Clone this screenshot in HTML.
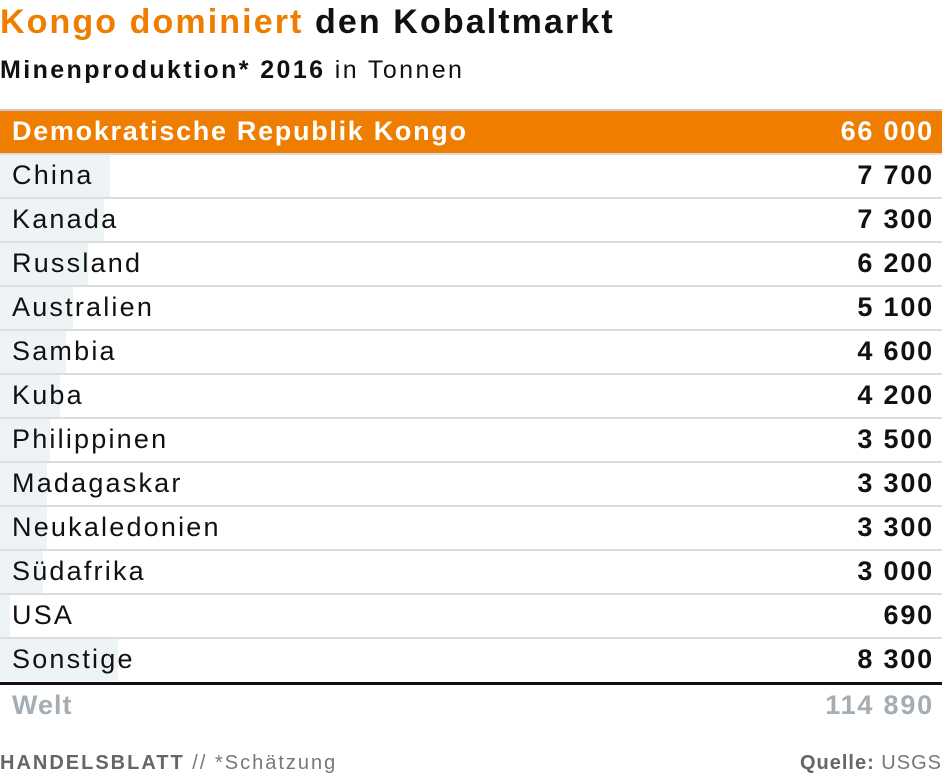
<!DOCTYPE html>
<html><head><meta charset="utf-8"><style>
body{margin:0;width:942px;height:775px;background:#fff;font-family:"Liberation Sans",sans-serif;position:relative;overflow:hidden}
.t{position:absolute;left:0;top:3px;font-size:34px;font-weight:bold;color:#111;letter-spacing:2.1px}
.s{position:absolute;left:0;top:56px;font-size:25px;color:#111;letter-spacing:2.4px}
.row{position:absolute;left:0;width:942px;height:42px;border-top:2px solid #ddd}
.bar{position:absolute;left:0;top:0;height:42px;background:#eef3f6}
.n{position:absolute;left:12px;top:5px;font-size:27px;color:#111;letter-spacing:2.2px}
.v{position:absolute;right:8px;top:5px;font-size:27px;font-weight:bold;color:#111;letter-spacing:1.8px}
.f{position:absolute;top:752px;font-size:20px;color:#777;letter-spacing:2px}
</style></head><body>
<div class="t"><span style="color:#ee7d00">Kongo dominiert</span> den Kobaltmarkt</div>
<div class="s"><b>Minenproduktion* 2016</b> in Tonnen</div>
<div class="row" style="top:109px;background:#ee7d00;border-top-color:#ccc"><div class="n" style="color:#fff;font-weight:bold;letter-spacing:1.7px">Demokratische Republik Kongo</div><div class="v" style="color:#fff">66 000</div></div>
<div class="row" style="top:153px"><div class="bar" style="width:110px"></div><div class="n">China</div><div class="v">7 700</div></div>
<div class="row" style="top:197px"><div class="bar" style="width:104px"></div><div class="n">Kanada</div><div class="v">7 300</div></div>
<div class="row" style="top:241px"><div class="bar" style="width:88px"></div><div class="n">Russland</div><div class="v">6 200</div></div>
<div class="row" style="top:285px"><div class="bar" style="width:73px"></div><div class="n">Australien</div><div class="v">5 100</div></div>
<div class="row" style="top:329px"><div class="bar" style="width:66px"></div><div class="n">Sambia</div><div class="v">4 600</div></div>
<div class="row" style="top:373px"><div class="bar" style="width:60px"></div><div class="n">Kuba</div><div class="v">4 200</div></div>
<div class="row" style="top:417px"><div class="bar" style="width:50px"></div><div class="n">Philippinen</div><div class="v">3 500</div></div>
<div class="row" style="top:461px"><div class="bar" style="width:47px"></div><div class="n">Madagaskar</div><div class="v">3 300</div></div>
<div class="row" style="top:505px"><div class="bar" style="width:47px"></div><div class="n">Neukaledonien</div><div class="v">3 300</div></div>
<div class="row" style="top:549px"><div class="bar" style="width:43px"></div><div class="n">Südafrika</div><div class="v">3 000</div></div>
<div class="row" style="top:593px"><div class="bar" style="width:10px"></div><div class="n">USA</div><div class="v">690</div></div>
<div class="row" style="top:637px"><div class="bar" style="width:118px"></div><div class="n">Sonstige</div><div class="v">8 300</div></div>
<div class="row" style="top:682px;border-top:3px solid #111;height:41px"><div class="n" style="color:#a3adb3;font-weight:bold;letter-spacing:1px">Welt</div><div class="v" style="color:#a3adb3">114 890</div></div>
<div class="f" style="left:0"><b style="color:#666">HANDELSBLATT</b> // *Schätzung</div>
<div class="f" style="right:0;letter-spacing:1px"><b style="color:#666">Quelle:</b> USGS</div>
</body></html>
